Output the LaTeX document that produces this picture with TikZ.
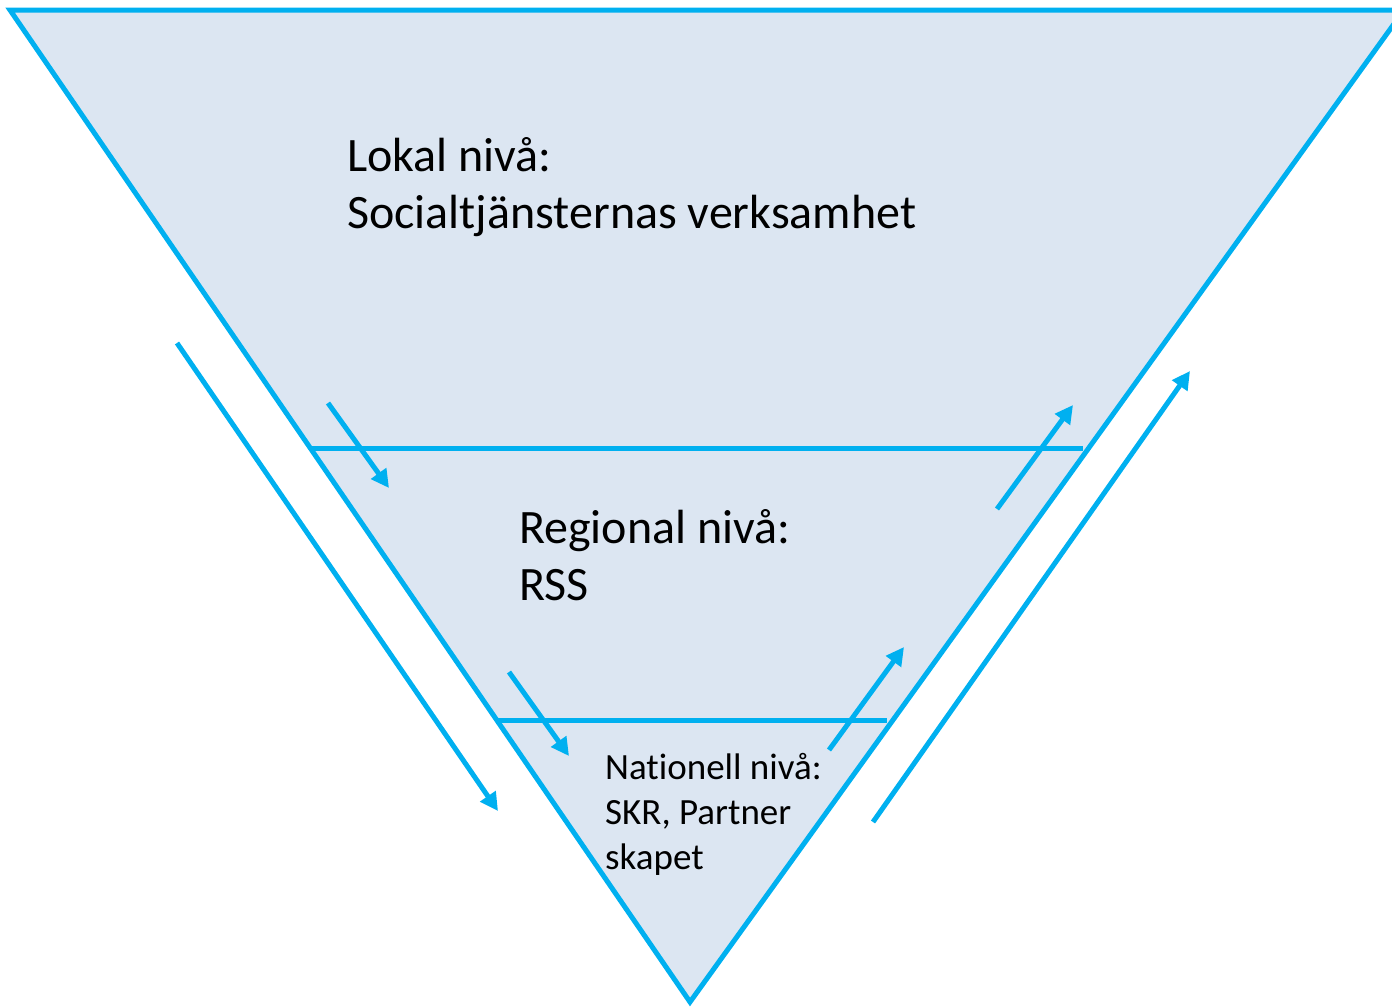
\documentclass[tikz,border=0pt]{standalone}
\usepackage{fontspec}
\setmainfont{Carlito}[Ligatures=CommonOff]
\usetikzlibrary{arrows.meta}
\definecolor{tri}{HTML}{DCE6F2}
\definecolor{cyanline}{HTML}{00B0F0}
\begin{document}
\begin{tikzpicture}[x=1pt,y=-1pt,
  edge/.style={draw=cyanline,line width=5pt},
  flow/.style={draw=cyanline,line width=5pt,-{Triangle[length=18pt,width=18pt]}},
  lbl/.style={anchor=base west,align=left,inner sep=0pt,text=black}]
\useasboundingbox (0,0) rectangle (1392,1007);
\clip (0,0) rectangle (1392,1007);
\coordinate (tl) at (10,10);
\coordinate (tr) at (1404,10);
\coordinate (bt) at (690,1002);
\filldraw[fill=tri,edge,line join=miter] (tl) -- (tr) -- (bt) -- cycle;
\coordinate (l1a) at (312,448); \coordinate (l1b) at (1083,448);
\coordinate (l2a) at (496,720); \coordinate (l2b) at (887,720);
\draw[edge] (l1a) -- (l1b);
\draw[edge] (l2a) -- (l2b);
% arrows
\coordinate (a1s) at (177,343); \coordinate (a1e) at (498,811);
\coordinate (a2s) at (873,822); \coordinate (a2e) at (1190,371);
\coordinate (a3s) at (328,403); \coordinate (a3e) at (389,488);
\coordinate (a4s) at (997,509); \coordinate (a4e) at (1073,405);
\coordinate (a5s) at (509,672); \coordinate (a5e) at (569,756);
\coordinate (a6s) at (829,750); \coordinate (a6e) at (904,647);
\draw[flow] (a1s) -- (a1e);
\draw[flow] (a2s) -- (a2e);
\draw[flow] (a3s) -- (a3e);
\draw[flow] (a4s) -- (a4e);
\draw[flow] (a5s) -- (a5e);
\draw[flow] (a6s) -- (a6e);
% texts
\node[lbl,font=\fontsize{48}{57}\selectfont] (lokal) at (347,228) {Lokal nivå:\\Socialtjänsternas verksamhet};
\node[lbl,font=\fontsize{48}{57}\selectfont] (regional) at (519,600) {Regional nivå:\\RSS};
\node[lbl,font=\fontsize{37}{45}\selectfont] (nationell) at (605,869) {Nationell nivå:\\SKR, Partner\\skapet};
\end{tikzpicture}
\end{document}
